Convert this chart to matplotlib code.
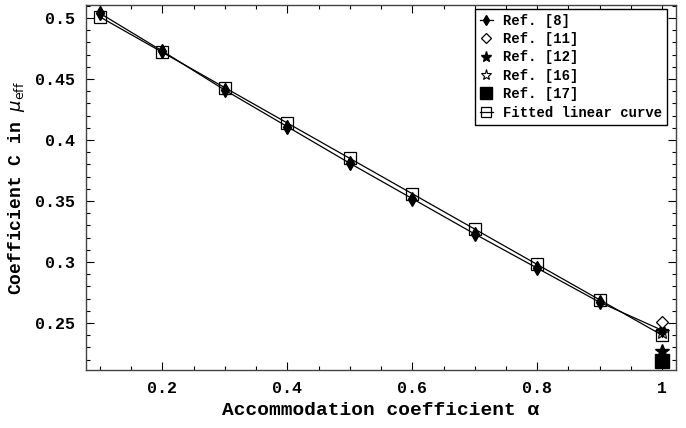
import matplotlib.pyplot as plt
from matplotlib.ticker import MultipleLocator, FuncFormatter

# Данные
alpha = [0.1, 0.2, 0.3, 0.4, 0.5, 0.6, 0.7, 0.8, 0.9, 1.0]
ref8 = [0.504, 0.473, 0.441, 0.411, 0.381, 0.352, 0.323, 0.295, 0.267, 0.244]
fitted = [0.501, 0.472, 0.443, 0.414, 0.385, 0.356, 0.327, 0.298, 0.269, 0.240]

# Точки других работ (только при alpha = 1)
ref11_x, ref11_y = [1.0], [0.2508]
ref12_x, ref12_y = [1.0], [0.227]
ref16_x, ref16_y = [1.0], [0.243]
ref17_x, ref17_y = [1.0], [0.2185]

MONO = "Liberation Mono"


def fmt(v, pos):
    # подписи как в Mathematica: 0.3, 0.35, 1
    s = f"{v:.2f}".rstrip("0").rstrip(".")
    return s


def main():
    fig = plt.figure(figsize=(6.86, 4.28), dpi=100)
    ax = fig.add_axes([0.1254, 0.1355, 0.86, 0.8528])

    ax.plot(alpha, ref8, color="black", lw=0.9, marker="d", ms=7,
            mfc="black", mec="black", label="Ref. [8]", zorder=3)
    ax.plot(ref11_x, ref11_y, ls="none", marker="D", ms=6, mfc="white",
            mec="black", mew=0.9, label="Ref. [11]", zorder=4)
    ax.plot(ref12_x, ref12_y, ls="none", marker="*", ms=10, mfc="black",
            mec="black", label="Ref. [12]", zorder=4)
    ax.plot(ref16_x, ref16_y, ls="none", marker="*", ms=10, mfc="white",
            mec="black", mew=0.8, label="Ref. [16]", zorder=2)
    ax.plot(ref17_x, ref17_y, ls="none", marker="s", ms=10, mfc="black",
            mec="black", label="Ref. [17]", zorder=4)
    ax.plot(alpha, fitted, color="black", lw=0.9, marker="s", ms=9,
            mfc="none", mec="black", mew=0.9, label="Fitted linear curve",
            zorder=2)

    ax.set_xlim(0.078, 1.022)
    ax.set_ylim(0.2115, 0.5107)

    # Деления как в рамке Mathematica
    ax.xaxis.set_major_locator(MultipleLocator(0.2))
    ax.xaxis.set_minor_locator(MultipleLocator(0.05))
    ax.yaxis.set_major_locator(MultipleLocator(0.05))
    ax.yaxis.set_minor_locator(MultipleLocator(0.01))
    ax.xaxis.set_major_formatter(FuncFormatter(fmt))
    ax.yaxis.set_major_formatter(FuncFormatter(fmt))
    ax.tick_params(which="both", direction="in", top=True, right=True,
                   width=0.8)
    ax.tick_params(which="major", length=6, pad=8)
    ax.tick_params(which="minor", length=3)
    for lab in ax.get_xticklabels() + ax.get_yticklabels():
        lab.set_fontfamily(MONO)
        lab.set_fontweight("bold")
        lab.set_fontsize(12)
    for sp in ax.spines.values():
        sp.set_linewidth(1.0)
        sp.set_color("#444444")

    ax.set_xlabel("Accommodation coefficient α", family=[MONO, "DejaVu Sans"],
                  fontsize=14, fontweight="bold", labelpad=4)
    ax.set_ylabel(r"Coefficient C in $\mu_{\rm eff}$", family=MONO,
                  fontsize=13, fontweight="bold", labelpad=6)

    leg = ax.legend(loc="upper right", bbox_to_anchor=(0.985, 0.99),
                    borderaxespad=0, fancybox=False, framealpha=1,
                    edgecolor="black",
                    prop={"family": MONO, "weight": "bold", "size": 10},
                    handlelength=1.0, handletextpad=0.7, labelspacing=0.32,
                    borderpad=0.35, markerscale=0.8)
    leg.get_frame().set_linewidth(1.0)

    plt.savefig("out.png", dpi=100)


if __name__ == "__main__":
    main()
